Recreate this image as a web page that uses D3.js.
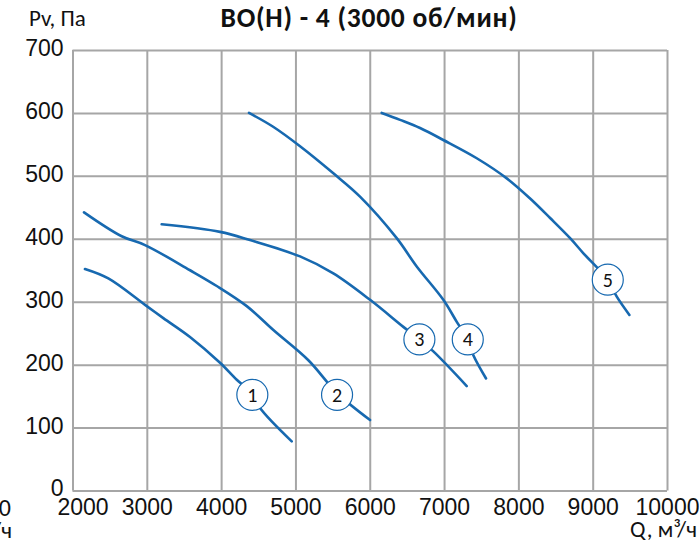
<!DOCTYPE html>
<html><head><meta charset="utf-8">
<script src="https://cdn.jsdelivr.net/npm/d3@7"></script>
<style>
html,body{margin:0;padding:0;background:#fff;}
svg{display:block;font-family:Carlito, Calibri, Lato, sans-serif;}
</style></head>
<body>
<svg id="chart" width="700" height="544"></svg>
<script>
const title = "ВО(Н) - 4 (3000 об/мин)";
const yAxisTitle = "Pv, Па";
const xAxisTitle = "Q, м³/ч";
const xTicks = [2000, 3000, 4000, 5000, 6000, 7000, 8000, 9000, 10000];
const yTicks = [0, 100, 200, 300, 400, 500, 600, 700];

const curve1Q = [2168, 2482, 2976, 3222, 3581, 3985, 4210, 4420, 4524, 4950];
const curve1P = [352, 337, 295, 274, 244, 203, 176, 154, 131, 78];
const curve2Q = [2155, 2662, 2976, 3582, 3941, 4345, 4703, 5174, 5560, 6004];
const curve2P = [442, 404, 390, 350, 325, 293, 255, 207, 155, 112];
const curve3Q = [3200, 3985, 4389, 5062, 5510, 6004, 6452, 6668, 6856, 7305];
const curve3P = [423, 411, 398, 372, 345, 303, 260, 240, 221, 166];
const curve4Q = [4375, 4700, 5062, 5510, 5869, 6363, 6632, 6990, 7171, 7319, 7394, 7565];
const curve4P = [600, 578, 547, 504, 467, 401, 356, 303, 268, 240, 215, 178];
const curve5Q = [6161, 6408, 6677, 6990, 7440, 7844, 8158, 8427, 8696, 8875, 9203, 9324, 9494];
const curve5P = [600, 589, 576, 557, 528, 496, 464, 433, 401, 377, 335, 308, 279];

const curveNames = ["1", "2", "3", "4", "5"];
const labelQ = [4420, 5560, 6668, 7319, 9203];
const labelP = [152, 152, 240, 240, 335];

const W = 700, H = 544;
const margin = {left: 72.5, right: 33, top: 50, bottom: 53.5};
const svg = d3.select("#chart");

const x = d3.scaleLinear().domain([2000, 10000]).range([margin.left, W - margin.right]);
const y = d3.scaleLinear().domain([0, 700]).range([H - margin.bottom, margin.top]);

const gridColor = "#a6a6a6";
const blue = "#1769b0";
const fontSize = 23;

// vertical grid + x labels
const gx = svg.append("g").attr("transform", `translate(0,${y(0)})`)
  .call(d3.axisBottom(x).tickValues(xTicks).tickSize(-(y(0) - y(700))).tickSizeOuter(0).tickPadding(8).tickFormat(d3.format("d")));
gx.select(".domain").remove();
gx.selectAll(".tick line").attr("stroke", gridColor).attr("stroke-width", 2);
gx.selectAll(".tick text").attr("fill", "#111").attr("font-size", fontSize).attr("font-family", null);
gx.selectAll(".tick").filter(d => d === 2000).select("text").attr("dx", 10);

// horizontal grid + y labels
const gy = svg.append("g").attr("transform", `translate(${x(2000)},0)`)
  .call(d3.axisLeft(y).tickValues(yTicks).tickSize(-(x(10000) - x(2000))).tickSizeOuter(0).tickPadding(9).tickFormat(d3.format("d")));
gy.select(".domain").remove();
gy.selectAll(".tick line").attr("stroke", gridColor).attr("stroke-width", 2);
gy.selectAll(".tick text").attr("fill", "#111").attr("font-size", fontSize).attr("font-family", null).attr("dy", "0.26em");
gy.selectAll(".tick").filter(d => d === 0).select("text").attr("dy", "0.2em");

// curves
const curves = [[curve1Q, curve1P], [curve2Q, curve2P], [curve3Q, curve3P], [curve4Q, curve4P], [curve5Q, curve5P]];
const line = d3.line().x(d => x(d[0])).y(d => y(d[1])).curve(d3.curveCatmullRom.alpha(0.5));
curves.forEach(([qs, ps]) => {
  svg.append("path")
    .datum(qs.map((q, i) => [q, ps[i]]))
    .attr("d", line)
    .attr("fill", "none")
    .attr("stroke", blue)
    .attr("stroke-width", 2.6)
    .attr("stroke-linecap", "round");
});

// labels
curveNames.forEach((n, i) => {
  const g = svg.append("g").attr("transform", `translate(${x(labelQ[i])},${y(labelP[i])})`);
  g.append("circle").attr("r", 15.5).attr("fill", "#fff").attr("stroke", blue).attr("stroke-width", 1.2);
  g.append("text").attr("text-anchor", "middle").attr("dy", "0.34em").attr("font-size", 20).attr("fill", "#111").text(n);
});

// titles
svg.append("text").attr("x", 369).attr("y", 27).attr("text-anchor", "middle")
  .attr("font-size", 27.5).attr("font-weight", "bold").attr("letter-spacing", 0.75).attr("fill", "#111").text(title);
svg.append("text").attr("x", 29).attr("y", 26).attr("font-size", fontSize).attr("fill", "#111").text(yAxisTitle);
svg.append("text").attr("x", 697).attr("y", 537).attr("text-anchor", "end").attr("font-size", fontSize).attr("fill", "#111").text(xAxisTitle);

// stray cut-off labels at the left edge (from neighbouring chart)
svg.append("text").attr("x", 11).attr("y", 516).attr("text-anchor", "end").attr("font-size", fontSize + 1).attr("fill", "#111").text("10000");
svg.append("text").attr("x", 12).attr("y", 538).attr("text-anchor", "end").attr("font-size", fontSize).attr("fill", "#111").text(xAxisTitle);
</script>
</body></html>
